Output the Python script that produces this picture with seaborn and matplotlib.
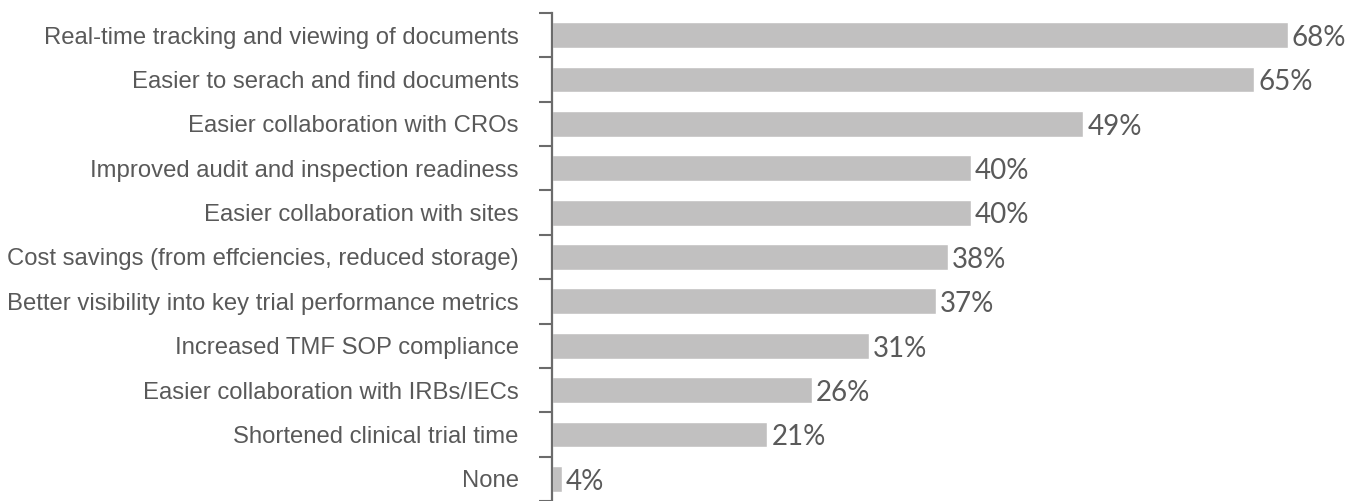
import matplotlib
matplotlib.use("Agg")
import matplotlib.pyplot as plt
import seaborn as sns
import pandas as pd
import numpy as np
from matplotlib.ticker import FixedLocator

categories = [
    "Real-time tracking and viewing of documents",
    "Easier to serach and find documents",
    "Easier collaboration with CROs",
    "Improved audit and inspection readiness",
    "Easier collaboration with sites",
    "Cost savings (from effciencies, reduced storage)",
    "Better visibility into key trial performance metrics",
    "Increased TMF SOP compliance",
    "Easier collaboration with IRBs/IECs",
    "Shortened clinical trial time",
    "None",
]
# bar lengths as drawn in the picture (percent scale)
bar_values = [68, 64.9, 49.1, 38.7, 38.7, 36.6, 35.5, 29.3, 24.0, 19.9, 0.9]
value_labels = ["68%", "65%", "49%", "40%", "40%", "38%", "37%", "31%", "26%", "21%", "4%"]

df = pd.DataFrame({"category": categories, "value": bar_values})

sns.set_theme(style="white")
plt.rcParams['font.family'] = ['Liberation Sans', 'DejaVu Sans']

W, H = 1369, 501
fig = plt.figure(figsize=(W / 100, H / 100), dpi=100)
ax_left = 552 / W
ax_top = 13 / H
ax = fig.add_axes([ax_left, 0, 1 - ax_left, 1 - ax_top])

sns.barplot(data=df, x="value", y="category", orient="h", color="#c1c0c0",
            saturation=1, width=0.58, ax=ax)

ax.set_xlim(0, (W - 552) / 10.82)
ax.set_ylim(len(categories) - 0.5, -0.5)

for s in ["top", "right", "bottom"]:
    ax.spines[s].set_visible(False)
ax.spines["left"].set_color("#6b6b6b")
ax.spines["left"].set_linewidth(1.6)

ax.set_xticks([])
ax.set_xlabel("")
ax.set_ylabel("")

ax.yaxis.set_minor_locator(FixedLocator(np.arange(-0.5, len(categories), 1.0)))
ax.tick_params(axis="y", which="major", length=0, pad=24, labelsize=17.2, labelcolor="#595959")
ax.tick_params(axis="y", which="minor", length=9.5, width=1.5, color="#6b6b6b", direction="out", left=True)

for bar, lab in zip(ax.patches, value_labels):
    x = bar.get_width()
    y = bar.get_y() + bar.get_height() / 2
    ax.annotate(lab, (x, y), xytext=(3, -2), textcoords="offset points",
                ha="left", va="center", fontsize=20, color="#5a5a5a",
                family=["Lato", "DejaVu Sans"], fontweight="normal")

fig.savefig("out.png", dpi=100)
